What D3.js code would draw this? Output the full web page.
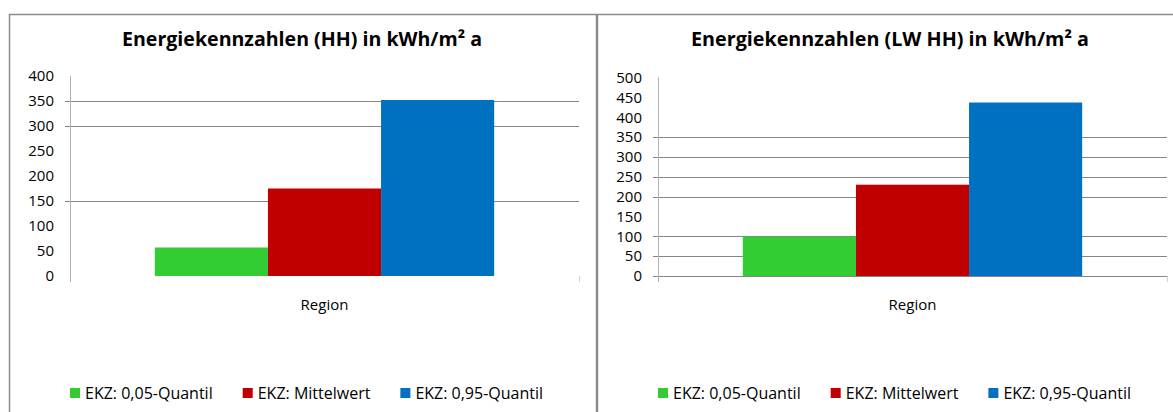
<!DOCTYPE html>
<head>
    <meta charset="utf-8">
    <script src="https://cdn.jsdelivr.net/npm/d3@7"></script>
    <style>
        body { margin:0; background:#fff; }
        text { font-family: "Open Sans", sans-serif; fill:#000; }
    </style>
</head>

<body>
    <div id="container"></div>

    <script>
    // data
    var categories = ["Region"];
    var seriesNames = ["EKZ: 0,05-Quantil", "EKZ: Mittelwert", "EKZ: 0,95-Quantil"];
    var hhValues = [57, 175, 352];
    var lwValues = [99, 230, 437];
    var hhTicks = [0, 50, 100, 150, 200, 250, 300, 350, 400];
    var lwTicks = [0, 50, 100, 150, 200, 250, 300, 350, 400, 450, 500];
    // only these grid lines survive in the screenshot
    var hhGrid = [150, 300, 350];
    var lwGrid = [0, 50, 100, 200, 250, 300, 350];

    var color = d3.scaleOrdinal()
        .domain(seriesNames)
        .range(["#33cc33", "#c00000", "#0070c0"]);

    var svg = d3.select("#container")
        .append("svg")
        .attr("width", 1173)
        .attr("height", 412);

    svg.append("rect")
        .attr("width", 1173)
        .attr("height", 412)
        .attr("fill", "#fff");

    function drawPanel(fx, title, values, ticks, grid, yTop) {
        var g = svg.append("g");
        var left = fx + 61, right = fx + 570, bottom = 276;

        // chart frame (open at the bottom, cut by the screenshot)
        g.append("path")
            .attr("d", "M" + (fx + 0.5) + ",420V14.5H" + (fx + 587.5) + "V420")
            .attr("fill", "none")
            .attr("stroke", "#8c8c8c")
            .attr("stroke-width", 1.5);

        var y = d3.scaleLinear()
            .domain([0, d3.max(ticks)])
            .range([bottom, yTop]);

        var x0 = d3.scaleBand()
            .domain(categories)
            .range([left, right])
            .paddingInner(0)
            .paddingOuter(0.25);

        var x1 = d3.scaleBand()
            .domain(seriesNames)
            .range([0, x0.bandwidth()]);

        g.append("text")
            .attr("x", fx + 293)
            .attr("y", 46)
            .attr("text-anchor", "middle")
            .attr("font-size", "20px")
            .attr("font-weight", "bold")
            .attr("textLength", title.length > 36 ? 398 : 360)
            .attr("lengthAdjust", "spacingAndGlyphs")
            .text(title);

        // grid lines
        g.selectAll(".grid")
            .data(grid)
            .enter()
            .append("line")
            .attr("x1", left - 5)
            .attr("x2", right)
            .attr("y1", function (d) { return Math.round(y(d)) + 0.5; })
            .attr("y2", function (d) { return Math.round(y(d)) + 0.5; })
            .attr("stroke", "#868686");

        // tick labels from the axis generator
        var yAxis = g.append("g")
            .attr("transform", "translate(" + left + ",0)")
            .call(d3.axisLeft(y).tickValues(ticks).tickSize(0).tickPadding(16));
        yAxis.select(".domain").remove();
        yAxis.selectAll("text")
            .attr("font-size", "15px")
            .attr("font-family", "'Open Sans', sans-serif")
            .attr("fill", "#000");

        g.append("line")
            .attr("x1", left + 0.5).attr("x2", left + 0.5)
            .attr("y1", yTop).attr("y2", bottom + 6)
            .attr("stroke", "#b3b3b3");
        g.append("line")
            .attr("x1", right + 0.5).attr("x2", right + 0.5)
            .attr("y1", bottom).attr("y2", bottom + 6)
            .attr("stroke", "#d0d0d0");

        // bars
        var cat = g.selectAll(".cat")
            .data(categories)
            .enter()
            .append("g")
            .attr("transform", function (d) { return "translate(" + x0(d) + ",0)"; });

        cat.selectAll("rect")
            .data(function () { return seriesNames.map(function (s, i) { return {name: s, value: values[i]}; }); })
            .enter()
            .append("rect")
            .attr("x", function (d) { return x1(d.name); })
            .attr("width", x1.bandwidth())
            .attr("y", function (d) { return y(d.value); })
            .attr("height", function (d) { return bottom - y(d.value); })
            .attr("fill", function (d) { return color(d.name); });

        cat.append("text")
            .attr("x", x0.bandwidth() / 2)
            .attr("y", 310)
            .attr("text-anchor", "middle")
            .attr("font-size", "15px")
            .text(function (d) { return d; });

        // legend
        var lx = fx + 61;
        seriesNames.forEach(function (s) {
            g.append("rect")
                .attr("x", lx).attr("y", 388)
                .attr("width", 10).attr("height", 10)
                .attr("fill", color(s));
            var t = g.append("text")
                .attr("x", lx + 15)
                .attr("y", 398.5)
                .attr("font-size", "16px")
                .text(s);
            lx += 15 + t.node().getComputedTextLength() + 30;
        });
    }

    drawPanel(9, "Energiekennzahlen (HH) in kWh/m\u00b2 a", hhValues, hhTicks, hhGrid, 76);
    drawPanel(597, "Energiekennzahlen (LW HH) in kWh/m\u00b2 a", lwValues, lwTicks, lwGrid, 77.5);
    </script>
</body>
